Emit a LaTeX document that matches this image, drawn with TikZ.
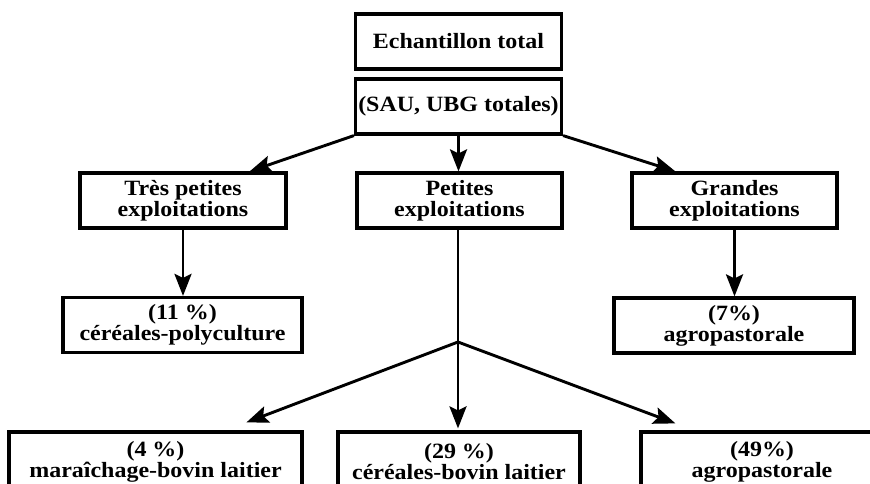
\documentclass[tikz,border=0pt]{standalone}
\usepackage{fontspec}
\setmainfont{Liberation Serif}[FakeStretch=1.1]
\usetikzlibrary{arrows.meta,calc}
\tikzset{
  box/.style={draw=black, line width=3.2pt, fill=white, inner sep=0pt, align=center,
    font=\fontsize{21.8}{21}\selectfont\bfseries, minimum height=55pt},
  arr/.style={line width=2.9pt, -{Stealth[length=22pt,width=17pt,inset=4pt]}},
  ln/.style={line width=2.9pt}
}
\begin{document}
\begin{tikzpicture}[x=1pt,y=-1pt]
\clip (0,0) rectangle (870,484);
\useasboundingbox (0,0) rectangle (870,484);
\fill[white] (0,0) rectangle (870,484);
\node[box, minimum width=206pt] (E) at (458.5,41.5) {Echantillon total};
\node[box, minimum width=206pt] (SAU) at (458.5,106.5) {(SAU, UBG totales)};
\node[box, minimum width=206pt] (TP) at (183,200.5) {Très petites\\exploitations};
\node[box, minimum width=205pt] (P) at (459.5,200.5) {Petites\\exploitations};
\node[box, minimum width=205pt] (G) at (734.5,200.5) {Grandes\\exploitations};
\node[box, minimum width=239pt] (CP) at (182.5,325) {(11 \%)\\céréales-polyculture};
\node[box, minimum width=240pt] (A7) at (734,325.5) {(7\%)\\agropastorale};
\node[box, minimum width=293pt, minimum height=60pt] (MB) at (155.5,462) {(4 \%)\\maraîchage-bovin laitier};
\node[box, minimum width=242pt, minimum height=60pt] (CB) at (459,462) {(29 \%)\\céréales-bovin laitier};
\node[box, minimum width=242pt, minimum height=60pt] (A49) at (762,462) {(49\%)\\agropastorale};
\coordinate (J) at (458,342);
\coordinate (tTP) at ($(TP.north east)+(-38,0)$);
\coordinate (tG) at ($(G.north west)+(45,0)$);
\coordinate (tMB) at ($(MB.north west)+(239,-8)$);
\coordinate (tCB) at ($(CB.north)+(-1,-2)$);
\coordinate (tA) at ($(A49.north west)+(36,-7)$);
\draw[arr] (SAU.south west) -- (tTP);
\draw[arr] (SAU.south) -- (SAU.south |- P.north);
\draw[arr] (SAU.south east) -- (tG);
\draw[arr] (TP.south) -- (TP.south |- CP.north);
\draw[arr] (G.south) -- (G.south |- A7.north);
\draw[ln] (P.south -| J) -- (J);
\draw[arr] (J) -- (tMB);
\draw[arr] (J) -- (tCB);
\draw[arr] (J) -- (tA);
\end{tikzpicture}
\end{document}
